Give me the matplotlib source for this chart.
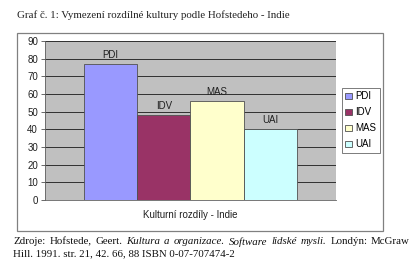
import matplotlib
matplotlib.use("Agg")
import matplotlib.pyplot as plt
from matplotlib.patches import Rectangle

# data
categories = ["PDI", "IDV", "MAS", "UAI"]
values = [77, 48, 56, 40]
colors = ["#9999FF", "#993366", "#FFFFCC", "#CCFFFF"]
y_ticks = [0, 10, 20, 30, 40, 50, 60, 70, 80, 90]

title = "Graf č. 1: Vymezení rozdílné kultury podle Hofstedeho - Indie"
xlabel = "Kulturní rozdíly - Indie"
source_parts = [
    ("Zdroje: Hofstede, Geert.", "normal"),
    ("Kultura a organizace. Software lidské mysli.", "italic"),
    ("Londýn: McGraw", "normal"),
]
source_line2 = "Hill. 1991. str. 21, 42. 66, 88 ISBN 0-07-707474-2"

W, H = 414, 268
fig = plt.figure(figsize=(W / 100, H / 100), dpi=100)
fig.patch.set_facecolor("white")

# outer chart frame
fig.patches.append(Rectangle((17 / W, 1 - 231 / H), (383 - 17) / W, (231 - 33) / H,
                             transform=fig.transFigure, fill=False,
                             edgecolor="#808080", linewidth=0.9))

ax = fig.add_axes([45 / W, 1 - 200 / H, (336 - 45) / W, (200 - 41) / H])
ax.set_facecolor("#C0C0C0")

sans = "Liberation Sans"
serif = "Liberation Serif"
sans_size = 7.0
serif_size = 7.85

bars = []
for i, (c, v, col) in enumerate(zip(categories, values, colors)):
    b = ax.bar(i, v, width=1.0, color=col, edgecolor="#505050", linewidth=0.6,
               label=c, zorder=3)
    bars.append(b)
    ax.text(i, v + 2.2, c, ha="center", va="bottom", fontsize=sans_size,
            family=sans, color="#202020", zorder=4)

ax.set_xlim(-1.23, 4.23)
ax.set_ylim(0, 90)
ax.set_yticks(y_ticks)
ax.set_xticks([])
ax.yaxis.grid(True, color="#303030", linewidth=0.7, zorder=1)
ax.set_axisbelow(True)
ax.tick_params(axis="y", length=3, width=0.6, color="#505050",
               labelsize=sans_size, pad=2, labelcolor="#202020")
for lab in ax.get_yticklabels():
    lab.set_family(sans)
for s in ["top", "right"]:
    ax.spines[s].set_visible(False)
ax.spines["left"].set_color("#606060")
ax.spines["bottom"].set_color("#606060")
ax.spines["left"].set_linewidth(0.6)
ax.spines["bottom"].set_linewidth(0.6)

fig.text(190 / W, 1 - 215 / H, xlabel, ha="center", va="center",
         fontsize=sans_size, family=sans, color="#202020")

leg = fig.legend(handles=[b[0] for b in bars], labels=categories,
                 loc="upper left", bbox_to_anchor=(342 / W, 1 - 88 / H),
                 frameon=True, fancybox=False, edgecolor="#404040",
                 prop={"family": sans, "size": sans_size}, handlelength=0.7,
                 handleheight=0.7, handletextpad=0.3, labelspacing=0.62,
                 borderpad=0.35, borderaxespad=0)
leg.get_frame().set_linewidth(0.6)

fig.text(17 / W, 1 - 15 / H, title, ha="left", va="center",
         fontsize=serif_size, family=serif, color="#202020")

# first source line is justified between x=13 and x=410 px
renderer = fig.canvas.get_renderer()
words = []
for txt, style in source_parts:
    for w in txt.split(" "):
        words.append((w, style))
texts = []
total = 0.0
for w, style in words:
    t = fig.text(0, 1 - 242 / H, w, ha="left", va="center",
                 fontsize=serif_size, family=serif, style=style, color="#101010")
    total += t.get_window_extent(renderer=renderer).width
    texts.append(t)
gap = (410 - 13 - total) / (len(texts) - 1)
x = 13.0
for t in texts:
    t.set_x(x / W)
    x += t.get_window_extent(renderer=renderer).width + gap

fig.text(13 / W, 1 - 254 / H, source_line2, ha="left", va="center",
         fontsize=serif_size, family=serif, color="#101010")

fig.savefig("out.png", dpi=100)
